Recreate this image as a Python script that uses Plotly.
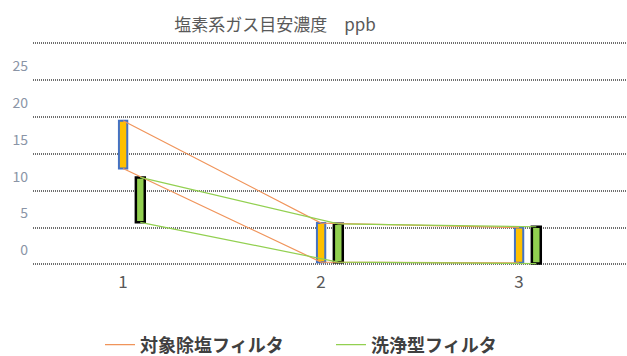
import plotly.graph_objects as go

# Measurement points and concentration ranges (ppb)
points = [1, 2, 3]
salt_filter_high = [19.5, 5.6, 5.0]
salt_filter_low = [13.0, 0.3, 0.2]
wash_filter_high = [11.8, 5.5, 5.1]
wash_filter_low = [5.7, 0.3, 0.1]

series_names = ["対象除塩フィルタ", "洗浄型フィルタ"]
y_ticks = [0, 5, 10, 15, 20, 25, 30]
y_tick_text = ["0", "5", "10", "15", "20", "25", ""]

GREEN_SHIFT = 0.087
FONT = "Noto Sans CJK JP"

orange_line = "#F0945A"
green_line = "#92D050"

x_orange = [p for p in points]
x_green = [p + GREEN_SHIFT for p in points]

fig = go.Figure()

# connecting lines (high and low) for each filter
fig.add_trace(go.Scatter(x=x_orange, y=salt_filter_high, mode="lines",
                         line=dict(color=orange_line, width=1.2),
                         name=series_names[0], legendgroup="a", showlegend=True))
fig.add_trace(go.Scatter(x=x_orange, y=salt_filter_low, mode="lines",
                         line=dict(color=orange_line, width=1.2),
                         name=series_names[0], legendgroup="a", showlegend=False))
fig.add_trace(go.Scatter(x=x_green, y=wash_filter_high, mode="lines",
                         line=dict(color=green_line, width=1.2),
                         name=series_names[1], legendgroup="b", showlegend=True))
fig.add_trace(go.Scatter(x=x_green, y=wash_filter_low, mode="lines",
                         line=dict(color=green_line, width=1.2),
                         name=series_names[1], legendgroup="b", showlegend=False))

# range boxes
fig.add_trace(go.Bar(x=x_orange,
                     y=[h - l for h, l in zip(salt_filter_high, salt_filter_low)],
                     base=salt_filter_low, width=0.042,
                     marker=dict(color="#FFC000", line=dict(color="#4472C4", width=2)),
                     showlegend=False, hoverinfo="skip"))
fig.add_trace(go.Bar(x=x_green,
                     y=[h - l for h, l in zip(wash_filter_high, wash_filter_low)],
                     base=wash_filter_low, width=0.045,
                     marker=dict(color="#92D050", line=dict(color="#000000", width=2.5)),
                     showlegend=False, hoverinfo="skip"))

fig.update_layout(
    width=627, height=356,
    margin=dict(l=33, r=0, t=40, b=89),
    plot_bgcolor="white", paper_bgcolor="white",
    barmode="overlay",
    font=dict(family=FONT),
    title=dict(text="塩素系ガス目安濃度　ppb", x=275 / 627, xanchor="center",
               y=1 - 25 / 356, yanchor="middle",
               font=dict(size=17, color="#595959", family=FONT)),
    xaxis=dict(range=[0.545, 3.545], tickvals=points, ticktext=[str(p) for p in points],
               showgrid=False, zeroline=False, showline=False, ticks="",
               ticklabelstandoff=3,
               tickfont=dict(size=17, color="#595959", family=FONT)),
    yaxis=dict(range=[-0.36, 30.45], tickvals=y_ticks, ticktext=y_tick_text,
               showgrid=True, gridcolor="#6E6E6E", gridwidth=2, griddash="1px,1px",
               zeroline=False, showline=False, ticks="",
               ticklabelshift=-14, ticklabelstandoff=4,
               tickfont=dict(size=14, color="#8A94A6", family=FONT)),
    legend=dict(orientation="h", xref="container", yref="container",
                x=100 / 627, xanchor="left", y=11 / 356, yanchor="middle",
                font=dict(size=18, color="#404040", family=FONT, weight="bold"),
                itemwidth=30, entrywidth=186, tracegroupgap=0),
)

fig.write_html("out.html")
